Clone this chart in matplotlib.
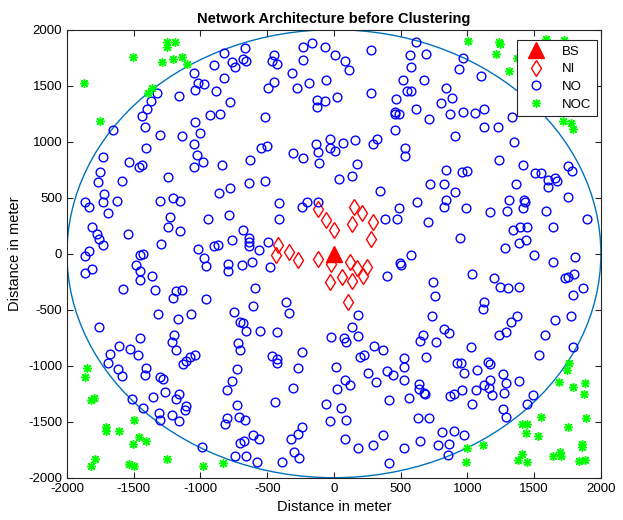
import matplotlib
matplotlib.use("Agg")
import matplotlib.pyplot as plt
import matplotlib.patches as mpatches
import numpy as np

plt.rcParams['font.family'] = ['Liberation Sans', 'DejaVu Sans']
plt.rcParams['axes.unicode_minus'] = False

# base station
bs = [(0, 0)]

# field radius (m)
radius = 2000

# nodes near the base station (NI)
ni = [(-122, 398), (-62, 300), (1, 210), (153, 419), (208, 359), (138, 264), (290, 279), (275, 133),
      (-422, 76), (-334, 17), (-434, -9), (-267, -54), (-117, -45), (-24, -89), (121, -74), (176, -128),
      (251, -119), (216, -197), (58, -211), (133, -247), (-29, -250), (103, -435)]

# ordinary nodes (NO)
no = [
    (-827, 1795), (-765, 1714), (-740, 1669), (-897, 1681), (-1052, 1616), (-827, 1565), (-1022, 1521),
    (-972, 1512), (-1039, 1458), (-880, 1455), (-1160, 1407), (-1327, 1431), (-1370, 1366), (-777, 1357),
    (-1397, 1288), (-1435, 1231), (-927, 1237), (-852, 1249), (-1039, 1172), (-1415, 1130), (-1007, 1082),
    (-1657, 1100), (-1302, 1059), (-1137, 1050),
    (-667, 1839), (-684, 1735), (-659, 1723), (-447, 1774), (-467, 1720), (-424, 1693), (-229, 1848),
    (-167, 1878), (-67, 1845), (-229, 1729), (11, 1774), (81, 1723), (113, 1640), (-312, 1610), (-59, 1553),
    (-449, 1532), (-492, 1476), (-274, 1476), (-187, 1521), (-129, 1371), (-67, 1366), (-129, 1312),
    (21, 1398), (275, 1818), (275, 1437), (612, 1893), (569, 1771), (577, 1664), (517, 1547), (544, 1452),
    (579, 1455), (465, 1381), (612, 1291), (455, 1261), (460, 1243), (490, 1243), (460, 1106), (-514, 1223),
    (-27, 1020), (159, 1014), (321, 1020),
    (689, 1783), (969, 1750), (939, 1646), (1101, 1589), (674, 1550), (836, 1482), (881, 1392), (801, 1345),
    (866, 1249), (969, 1267), (1056, 1255), (1126, 1288), (714, 1199), (1126, 1130), (1226, 1130),
    (1336, 1217), (906, 1050),
    (-1052, 979), (-1407, 940), (-1732, 863), (-1027, 881), (-982, 815), (-1047, 771), (-840, 791),
    (-1532, 815), (-1457, 771), (-1440, 791), (-1752, 729), (-1764, 642), (-1585, 648), (-1242, 687),
    (-1720, 532), (-1727, 461), (-1627, 473), (-1865, 464), (-1832, 419), (-1695, 362), (-1305, 473),
    (-1202, 499), (-1152, 473), (-862, 541), (-777, 589), (-1230, 324), (-1240, 240), (-1152, 207),
    (-945, 309), (-785, 345), (-1812, 240), (-1777, 172), (-1760, 133), (-1540, 175), (-1732, 80),
    (-1295, 91), (-1015, 38), (-897, 73), (-865, 76), (-762, 121), (-1832, 23),
    (-549, 940), (-504, 964), (-629, 836), (-304, 896), (-229, 857), (-134, 979), (-117, 911), (-109, 812),
    (-29, 946), (9, 920), (71, 991), (296, 979), (533, 940), (533, 872), (175, 797), (139, 693), (36, 666),
    (-634, 634), (-517, 651), (346, 559), (-412, 455), (-242, 419), (-204, 458), (-122, 458), (-409, 309),
    (-684, 208), (-637, 142), (-637, 103), (-637, 73), (-562, 32), (-492, 106), (626, 458), (489, 404),
    (476, 309), (379, 309),
    (1349, 1000), (1236, 836), (1419, 789), (839, 747), (956, 732), (994, 738), (1506, 717), (1549, 723),
    (1756, 783), (1786, 738), (1606, 657), (1656, 678), (1669, 651), (1601, 592), (719, 619), (826, 619),
    (906, 547), (1364, 622), (841, 479), (826, 413), (989, 404), (1314, 476), (1424, 482), (1434, 458),
    (1419, 410), (1299, 383), (1171, 368), (1586, 377), (1754, 502), (1894, 309), (706, 282), (1344, 216),
    (1394, 240), (1444, 240), (1644, 240), (946, 142), (1278, 47), (1389, 100), (1436, 121),
    (-1865, -18), (-1452, -9), (-1427, 0), (-972, -39), (-957, -107), (-790, -89), (-790, -152),
    (-1865, -173), (-1810, -137), (-1482, -104), (-1452, -152), (-1452, -232), (-1360, -197),
    (-1582, -316), (-1340, -328), (-1202, -396), (-1182, -337), (-1135, -322), (-960, -402),
    (-1320, -536), (-1165, -584), (-1070, -539), (-747, -521), (-702, -611), (-1760, -650),
    (-1452, -754), (-1197, -724), (-1210, -784), (-1182, -858), (-1610, -822), (-1525, -849),
    (-1677, -897), (-1470, -903), (-1690, -977), (-1040, -900), (-1077, -924), (-1107, -954),
    (-1132, -983), (-720, -793), (-702, -858),
    (-692, -104), (-617, -74), (-479, -119), (-592, -310), (-604, -465), (-359, -435), (-334, -530),
    (-679, -620), (-659, -688), (-554, -688), (-429, -700), (183, -551), (133, -655), (183, -732),
    (-24, -744), (75, -753), (88, -792), (302, -822), (369, -863), (-242, -882), (-467, -917),
    (-429, -941), (-429, -977), (225, -902), (195, -926), (395, -202), (495, -83), (500, -104),
    (577, -9), (526, -932),
    (1496, -9), (1809, -30), (1639, -74), (1036, -182), (1199, -217), (1244, -301), (1306, -307),
    (1386, -301), (1731, -217), (1756, -212), (1796, -179), (1866, -307), (1794, -366), (744, -256),
    (756, -375), (1126, -432), (1114, -495), (731, -554), (1373, -560), (1323, -614), (1288, -700),
    (1236, -724), (1655, -596), (1775, -560), (1580, -727), (1794, -831), (826, -676), (864, -709),
    (669, -724), (644, -775), (761, -784), (689, -924), (1026, -834), (1536, -903), (919, -977),
    (949, -977), (1156, -971), (1169, -986),
    (-1615, -1027), (-1407, -1024), (-1590, -1092), (-1415, -1086), (-1302, -1098), (-1282, -1116),
    (-727, -1033), (-760, -1137), (-802, -1221), (-1515, -1295), (-1352, -1280), (-1265, -1235),
    (-1182, -1301), (-1157, -1256), (-1107, -1361), (-1115, -1399), (-1427, -1378), (-1310, -1420),
    (-1305, -1486), (-1212, -1441), (-1157, -1495), (-727, -1355), (-710, -1456), (-802, -1471),
    (-815, -1516), (-985, -1727), (-702, -1694), (-740, -1808),
    (-267, -1018), (13, -1012), (259, -1063), (396, -1048), (439, -1083), (526, -1012), (526, -1128),
    (86, -1128), (121, -1173), (26, -1206), (313, -1146), (-304, -1197), (-442, -1325), (-59, -1346),
    (56, -1376), (410, -1310), (561, -1286), (641, -1167), (634, -1212), (-667, -1486), (-32, -1495),
    (89, -1489), (629, -1465), (-242, -1548), (-272, -1614), (-324, -1653), (-609, -1620), (-559, -1650),
    (-672, -1673), (83, -1655), (366, -1623), (183, -1733), (295, -1712), (528, -1739), (644, -1670),
    (-299, -1766), (-264, -1825), (-659, -1807), (-574, -1864), (-392, -1858), (416, -1873),
    (974, -1063), (1074, -1039), (1269, -1078), (1289, -1158), (1169, -1128), (1126, -1173),
    (1164, -1203), (1181, -1265), (1061, -1221), (956, -1218), (901, -1256), (869, -1271), (674, -1241),
    (681, -1256), (1389, -1137), (1274, -1247), (1036, -1346), (1494, -1265), (1444, -1346),
    (1269, -1390), (1291, -1456), (714, -1465), (806, -1596), (899, -1584), (976, -1623), (776, -1712),
    (861, -1697), (856, -1799),
]

# nodes outside the coverage circle (NOC)
noc = [
    (-1247, 1893), (-1190, 1887), (-1252, 1848), (-1502, 1753), (-1285, 1714), (-1202, 1735),
    (-1137, 1753), (-1102, 1690), (-1870, 1527), (-1360, 1482), (-1395, 1437), (-1754, 1187),
    (1006, 1902), (1239, 1887), (1244, 1869), (1211, 1786), (1314, 1631), (1369, 1744), (1589, 1917),
    (1724, 1908), (1714, 1184), (1777, 1169), (1794, 1112), (1759, -977),
    (-1852, -1018), (-1865, -1101), (-1820, -1307), (-1795, -1292), (-1497, -1489), (-1707, -1545),
    (-1707, -1587), (-1607, -1584), (-1457, -1635), (-1407, -1676), (-1502, -1703), (-1790, -1831),
    (-1820, -1891), (-1535, -1876), (-1497, -1891), (-1250, -1837), (-980, -1897), (-832, -1867),
    (1744, -1039), (1689, -1143), (1789, -1188), (1881, -1158), (1876, -1256), (1549, -1459),
    (1886, -1471), (1406, -1516), (1449, -1516), (1754, -1545), (1439, -1599), (1526, -1629),
    (994, -1736), (1114, -1709), (1856, -1703), (1861, -1727), (1411, -1784), (1381, -1846),
    (1449, -1861), (1644, -1802), (1694, -1772), (1704, -1802), (1839, -1852), (1881, -1846),
    (989, -1858),
]

bs = np.array(bs)
ni = np.array(ni)
no = np.array(no)
noc = np.array(noc)

fig = plt.figure(figsize=(6.23, 5.2), dpi=100)
ax = fig.add_axes([0.1075, 0.0813, 0.857, 0.8616])

ax.plot(bs[:, 0], bs[:, 1], '^', color='red', markersize=11, label='BS')
ax.plot(ni[:, 0], ni[:, 1], 'd', color='red', mfc='none', markersize=8, mew=1, label='NI')
ax.plot(no[:, 0], no[:, 1], 'o', color='blue', mfc='none', markersize=6.3, mew=1, label='NO')
ax.plot(noc[:, 0], noc[:, 1], marker=(8, 2, 0), ls='none', color='#00ff00', markersize=6.5,
        mew=1, label='NOC')
ax.add_patch(mpatches.Circle((0, 0), radius, fill=False, ec='#0072BD', lw=1))

ax.set_xlim(-2000, 2000)
ax.set_ylim(-2000, 2000)
ax.set_xticks(np.arange(-2000, 2001, 500))
ax.set_yticks(np.arange(-2000, 2001, 500))
ax.tick_params(direction='in', top=True, right=True, length=4, labelsize=9.5,
               colors='#262626', labelcolor='black')
for s in ax.spines.values():
    s.set_color('#262626')
    s.set_linewidth(0.8)

ax.set_title('Network Architecture before Clustering', fontsize=10.5, fontweight='bold', pad=5)
ax.set_xlabel('Distance in meter', fontsize=10.5)
ax.set_ylabel('Distance in meter', fontsize=10.5)

leg = ax.legend(loc='upper right', bbox_to_anchor=(0.9925, 0.977), borderaxespad=0, fontsize=9.5,
                fancybox=False, framealpha=1, edgecolor='#262626', borderpad=0.4, labelspacing=0.42,
                handlelength=2.0, handletextpad=1.0)
leg.get_frame().set_linewidth(0.8)

fig.savefig('out.png', dpi=100)
